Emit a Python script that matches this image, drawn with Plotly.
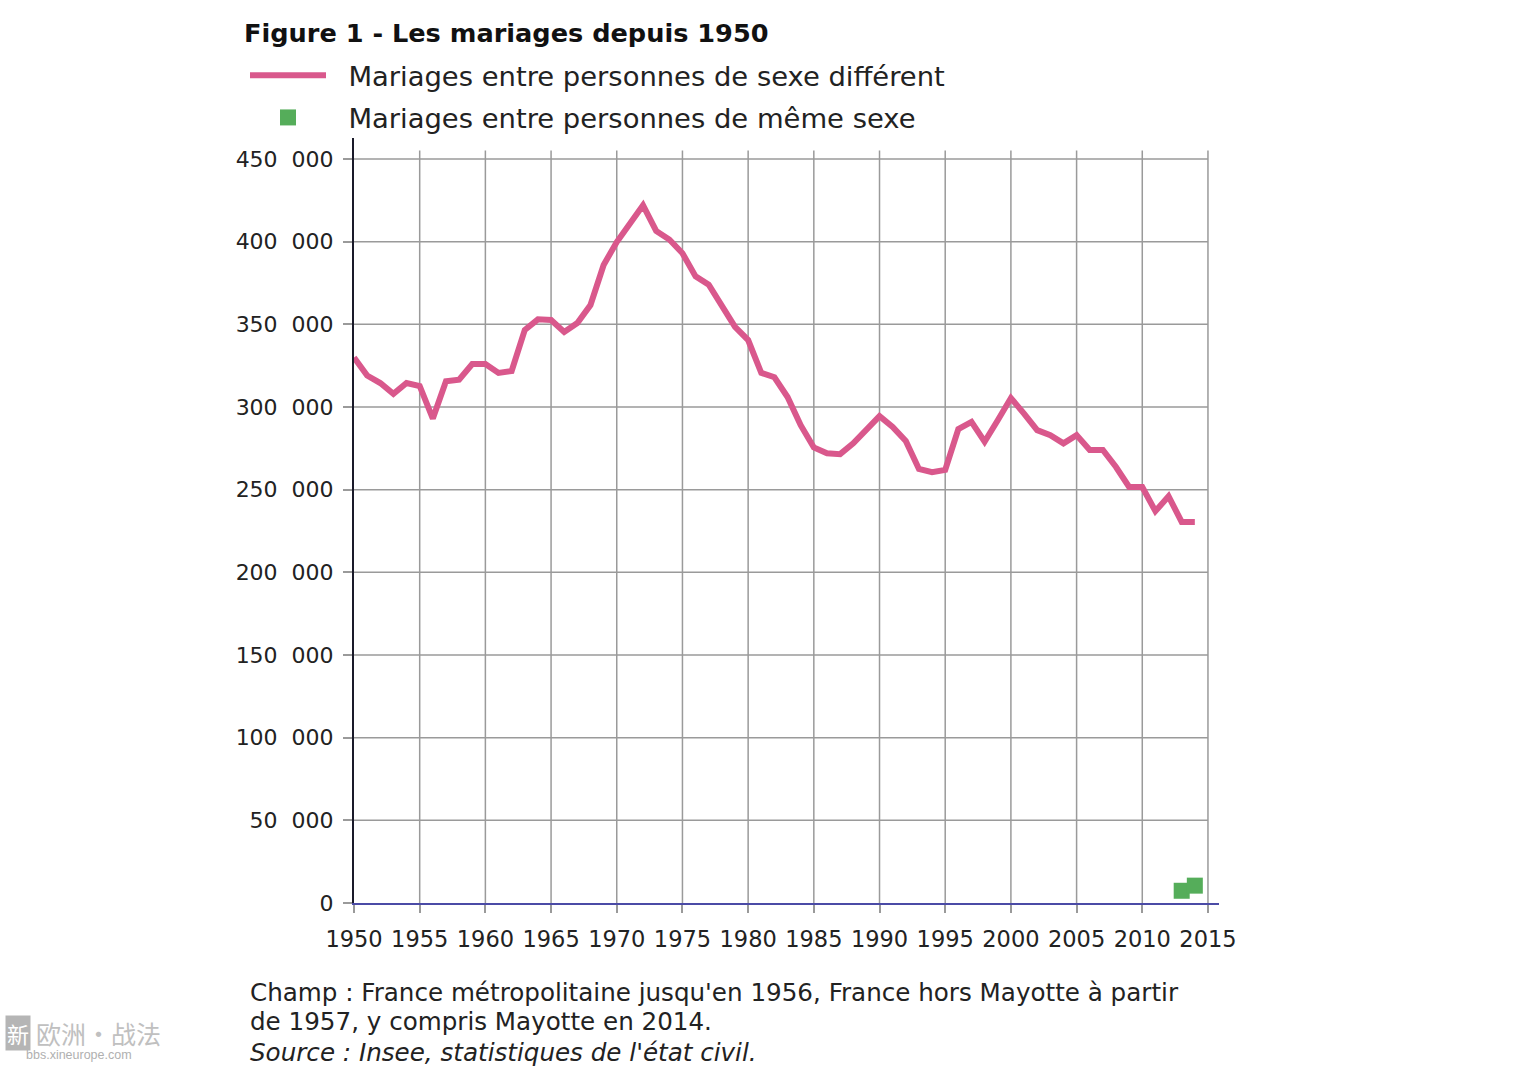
import plotly.graph_objects as go

# values
years = list(range(1950, 2015))
diff_sex = [330000, 319000, 314500, 308000, 314500, 312700, 293000, 315500, 316500, 326000,
            326000, 320600, 321800, 346600, 353000, 352600, 345400, 350800, 361700, 385900,
            399800, 411000, 422000, 406500, 401300, 393000, 379000, 374000, 361700, 348500,
            340500, 320600, 318000, 306000, 289000, 275500, 272000, 271500, 278000, 286000,
            294500, 288000, 279500, 262500, 260600, 262000, 286700, 291000, 279000, 292000,
            305400, 296000, 286000, 283000, 278000, 283000, 274000, 274000, 263700, 251600,
            251600, 237000, 246000, 230500, 230500]
same_sex_years = [2013, 2014]
same_sex = [7400, 10500]

x_ticks = list(range(1950, 2020, 5))
y_ticks = list(range(0, 500000, 50000))
y_labels = ["0", "50\u00a0\u00a0000", "100\u00a0\u00a0000", "150\u00a0\u00a0000", "200\u00a0\u00a0000",
            "250\u00a0\u00a0000", "300\u00a0\u00a0000", "350\u00a0\u00a0000", "400\u00a0\u00a0000", "450\u00a0\u00a0000"]

FONT = "DejaVu Sans"
TEXT = "#222222"
GRID = "#9a9a9a"
W, H = 1520, 1067
PAD = "\u00a0\u00a0"  # gap between legend sample and its text

fig = go.Figure()
fig.add_trace(go.Scatter(x=years, y=diff_sex, mode="lines", name=PAD + "Mariages entre personnes de sexe différent",
                         legendgroup="a", line=dict(color="#d9588c", width=6), cliponaxis=False))
fig.add_trace(go.Scatter(x=same_sex_years, y=same_sex, mode="markers", name=PAD + "Mariages entre personnes de même sexe",
                         legendgroup="b", marker=dict(color="#55ad5a", size=16, symbol="square"), cliponaxis=False))

# grid lines stop short of the axis ends, so drawn by hand
shapes = []
for t in x_ticks[1:]:
    shapes.append(dict(type="line", xref="x", yref="y", x0=t, x1=t, y0=0, y1=455200,
                       line=dict(color=GRID, width=1.5), layer="below"))
for t in y_ticks[1:]:
    shapes.append(dict(type="line", xref="x", yref="y", x0=1950, x1=2015, y0=t, y1=t,
                       line=dict(color=GRID, width=1.5), layer="below"))

notes = [
    ("Champ : France métropolitaine jusqu'en 1956, France hors Mayotte à partir", 248, 992),
    ("de 1957, y compris Mayotte en 2014.", 248, 1022),
    ("<i>Source : Insee, statistiques de l'état civil.</i>", 248, 1052),
]
annotations = []
for txt, px, py in notes:
    annotations.append(dict(text=txt, xref="paper", yref="paper", x=(px - 354) / (1219 - 354),
                            y=(903 - py) / (903 - 138), xanchor="left", yanchor="middle", showarrow=False,
                            font=dict(family=FONT, size=24.6, color=TEXT)))

# watermark bottom left
CJK = "Noto Sans CJK SC"
annotations.append(dict(text="新", xref="paper", yref="paper", x=(5 - 354) / 865, y=(903 - 1033) / 765,
                        xanchor="left", yanchor="middle", showarrow=False, bgcolor="#b5b5b5", borderpad=1,
                        font=dict(family=CJK, size=22, color="#ffffff")))
annotations.append(dict(text="欧洲·战法", xref="paper", yref="paper", x=(34 - 354) / 865, y=(903 - 1033) / 765,
                        xanchor="left", yanchor="middle", showarrow=False,
                        font=dict(family=CJK, size=25, color="#c0c0c0")))
annotations.append(dict(text="bbs.xineurope.com", xref="paper", yref="paper", x=(24 - 354) / 865, y=(903 - 1055) / 765,
                        xanchor="left", yanchor="middle", showarrow=False,
                        font=dict(family="Liberation Sans", size=12.5, color="#b0b0b0")))

fig.update_layout(
    width=W, height=H, autosize=False,
    margin=dict(l=354, r=301, t=138, b=164, autoexpand=False),
    paper_bgcolor="white", plot_bgcolor="white",
    font=dict(family=FONT, color=TEXT),
    title=dict(text="<b>Figure 1 - Les mariages depuis 1950</b>", xref="container", yref="container",
               x=244 / W, xanchor="left", y=1 - 33 / H, yanchor="middle",
               font=dict(family=FONT, size=25.6, color="#111111")),
    legend=dict(xref="container", yref="container", x=245 / W, xanchor="left", y=1 - 51 / H, yanchor="top",
                traceorder="grouped", tracegroupgap=3.5, itemwidth=76,
                font=dict(family=FONT, size=27.4, color=TEXT), bgcolor="rgba(0,0,0,0)"),
    xaxis=dict(range=[1950, 2015.84], tickmode="array", tickvals=x_ticks, ticktext=[str(t) for t in x_ticks],
               showgrid=False, zeroline=False, showline=True, linecolor="#4b4ba6", linewidth=2,
               ticks="outside", ticklen=8, tickcolor=GRID, tickwidth=1.5, ticklabelstandoff=7,
               tickfont=dict(family=FONT, size=22.5, color=TEXT), tickangle=0),
    yaxis=dict(range=[0, 462700], tickmode="array", tickvals=y_ticks, ticktext=y_labels,
               showgrid=False, zeroline=False, showline=True, linecolor="#1a1a2a", linewidth=2,
               ticks="outside", ticklen=9, tickcolor=GRID, tickwidth=1.5, ticklabelstandoff=5,
               tickfont=dict(family=FONT, size=22, color=TEXT)),
    shapes=shapes, annotations=annotations,
)

fig.write_html("out.html", config=dict(displayModeBar=False),
               post_script="document.body.style.margin='0';document.body.style.overflow='hidden';")
